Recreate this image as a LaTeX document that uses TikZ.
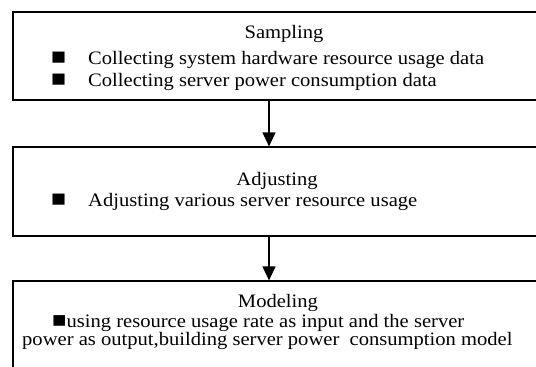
\documentclass[tikz,border=0pt]{standalone}
\usepackage{fontspec}
\setmainfont{Liberation Serif}[FakeStretch=1.083]
\usetikzlibrary{arrows.meta}

\tikzstyle{stage_box}=[rectangle,draw=black,line width=1.2pt,inner sep=0pt]
\tikzstyle{title_text}=[anchor=base,inner sep=0pt,font=\fontsize{19}{21}\selectfont]
\tikzstyle{item_text}=[anchor=base west,inner sep=0pt,font=\fontsize{19}{21}\selectfont]
\tikzstyle{bullet_mark}=[anchor=base west,inner sep=0pt,font=\fontsize{23}{21}\selectfont]
\tikzstyle{flow}=[line width=1.2pt,-{Triangle[length=14pt,width=13pt]}]

\begin{document}
\begin{tikzpicture}[x=1pt,y=1pt]

\useasboundingbox (0,0) rectangle (536,-367);

\node [stage_box,minimum width=542pt,minimum height=88pt] (sampling) at (284,-56) {};
\node [stage_box,minimum width=542pt,minimum height=89pt] (adjusting) at (284,-191.5) {};
\node [stage_box,minimum width=542pt,minimum height=120pt] (modeling) at (284,-341) {};

\coordinate (axis) at (269,0);

\node [title_text] (samplingtitle) at (284,-38) {Sampling};
\node [bullet_mark] (bullet11) at (51,-64) {■};
\node [item_text] (item11) at (88,-64) {Collecting system hardware resource usage data};
\node [bullet_mark] (bullet12) at (51,-86) {■};
\node [item_text] (item12) at (88,-86) {Collecting server power consumption data};

\node [title_text] (adjustingtitle) at (277,-185) {Adjusting};
\node [bullet_mark] (bullet21) at (51,-206) {■};
\node [item_text] (item21) at (88,-206) {Adjusting various server resource usage};

\node [title_text] (modelingtitle) at (278,-307) {Modeling};
\node [item_text] (item31) at (52,-327) {{\fontsize{22}{21}\selectfont ■}using resource usage rate as input and the server};
\node [item_text] (item32) at (22,-345) {power as output,building server power~ consumption model};

\draw[flow] (sampling.south -| axis) -- (adjusting.north -| axis);
\draw[flow] (adjusting.south -| axis) -- (modeling.north -| axis);

\end{tikzpicture}
\end{document}
